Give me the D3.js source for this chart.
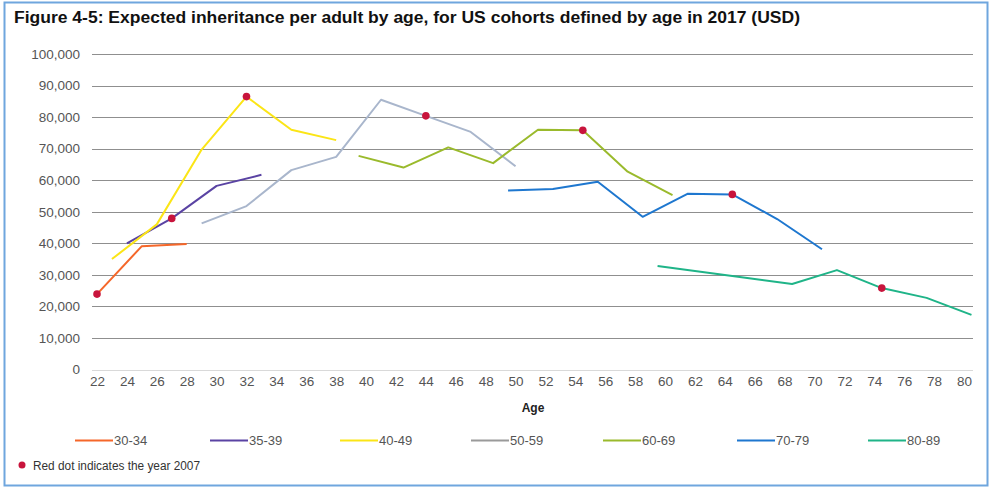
<!DOCTYPE html>
<html><head><meta charset="utf-8">
<script src="https://cdn.jsdelivr.net/npm/d3@7"></script>
<style>
html,body{margin:0;padding:0;background:#fff;}
svg{display:block;font-family:"Liberation Sans",Arial,Helvetica,sans-serif;}
</style></head>
<body><svg id="chart" width="991" height="489"></svg>
<script>
// ---- data ----
const title = "Figure 4-5: Expected inheritance per adult by age, for US cohorts defined by age in 2017 (USD)";
const cohorts = ["30-34","35-39","40-49","50-59","60-69","70-79","80-89"];
const colors  = ["#F5672A","#5A43A3","#FBE516","#A9B6CC","#9ABA2C","#1E77CF","#1FB488"];
const ages30_34 = [22, 25, 28];
const vals30_34 = [23900, 39100, 39800];
const ages35_39 = [24, 27, 30, 33];
const vals35_39 = [40000, 47900, 58200, 61700];
const ages40_49 = [23, 26, 29, 32, 35, 38];
const vals40_49 = [35000, 46000, 69700, 86500, 76000, 72700];
const ages50_59 = [29, 32, 35, 38, 41, 44, 47, 50];
const vals50_59 = [46300, 51800, 63200, 67400, 85500, 80400, 75300, 64400];
const ages60_69 = [39.5, 42.5, 45.5, 48.5, 51.5, 54.5, 57.5, 60.5];
const vals60_69 = [67700, 64000, 70400, 65400, 76000, 75800, 62700, 55300];
const ages70_79 = [49.5, 52.5, 55.5, 58.5, 61.5, 64.5, 67.5, 70.5];
const vals70_79 = [56700, 57200, 59500, 48400, 55700, 55500, 47700, 38100];
const ages80_89 = [59.5, 62.5, 65.5, 68.5, 71.5, 74.5, 77.5, 80.5];
const vals80_89 = [32800, 30900, 29000, 27100, 31500, 25800, 22700, 17300];
const dot2007Ages = [22, 27, 32, 44, 54.5, 64.5, 74.5];
const dot2007Vals = [23900, 47900, 86500, 80400, 75800, 55500, 25800];
const xTicks = [22,24,26,28,30,32,34,36,38,40,42,44,46,48,50,52,54,56,58,60,62,64,66,68,70,72,74,76,78,80];
const yTicks = [0,10000,20000,30000,40000,50000,60000,70000,80000,90000,100000];
const xTitle = "Age";
const noteText = "Red dot indicates the year 2007";

const seriesAges = [ages30_34, ages35_39, ages40_49, ages50_59, ages60_69, ages70_79, ages80_89];
const seriesVals = [vals30_34, vals35_39, vals40_49, vals50_59, vals60_69, vals70_79, vals80_89];

// ---- layout ----
const svg = d3.select("#chart");
const x = d3.scaleLinear().domain([22, 80]).range([97, 964]);
const y = d3.scaleLinear().domain([0, 100000]).range([369.5, 54]);
const gridL = 92, gridR = 973;

// border
svg.append("rect").attr("x",4.5).attr("y",2.5).attr("width",983).attr("height",483)
  .attr("fill","none").attr("stroke","#6FA6DE").attr("stroke-width",2);

// title
svg.append("text").attr("x",14).attr("y",23).attr("font-weight","bold")
  .attr("font-size",16).attr("fill","#111")
  .attr("textLength",786).attr("lengthAdjust","spacingAndGlyphs").text(title);

// gridlines
svg.append("g").selectAll("line").data(yTicks).join("line")
  .attr("x1",gridL).attr("x2",gridR)
  .attr("y1",d=>Math.round(y(d))+0.5).attr("y2",d=>Math.round(y(d))+0.5)
  .attr("stroke",d=>d===0?"#d9d9d9":"#8f8f8f").attr("stroke-width",1.2);

// y axis labels
const yAxis = d3.axisLeft(y).tickValues(yTicks).tickSize(0).tickPadding(0)
  .tickFormat(d3.format(","));
const gy = svg.append("g").attr("transform","translate(80,0)").call(yAxis);
gy.select(".domain").remove();
gy.selectAll("text").attr("font-size",13.5).attr("fill","#555")
  .attr("font-family","Liberation Sans, Arial, sans-serif");

// x axis labels
const xAxis = d3.axisBottom(x).tickValues(xTicks).tickSize(0).tickPadding(0).tickFormat(d3.format("d"));
const gx = svg.append("g").attr("transform","translate(0,376)").call(xAxis);
gx.select(".domain").remove();
gx.selectAll("text").attr("font-size",13.5).attr("fill","#555")
  .attr("font-family","Liberation Sans, Arial, sans-serif");

// x title
svg.append("text").attr("x",533).attr("y",412).attr("text-anchor","middle")
  .attr("font-weight","bold").attr("font-size",12).attr("fill","#222").text(xTitle);

// lines
const line = d3.line().x(d=>x(d[0])).y(d=>y(d[1]));
seriesAges.forEach((ages,i)=>{
  const pts = ages.map((a,j)=>[a, seriesVals[i][j]]);
  svg.append("path").datum(pts).attr("d",line).attr("fill","none")
    .attr("stroke",colors[i]).attr("stroke-width",2).attr("stroke-linejoin","round");
});

// red dots
svg.append("g").selectAll("circle").data(dot2007Ages).join("circle")
  .attr("cx",d=>x(d)).attr("cy",(d,i)=>y(dot2007Vals[i])).attr("r",3.8)
  .attr("fill","#C8143C");

// legend
const legX = [75, 210, 340, 471, 603, 737, 868];
const leg = svg.append("g");
cohorts.forEach((c,i)=>{
  leg.append("line").attr("x1",legX[i]).attr("x2",legX[i]+38).attr("y1",440.5).attr("y2",440.5)
    .attr("stroke", i===3 ? "#9a9a9a" : colors[i]).attr("stroke-width",2);
  leg.append("text").attr("x",legX[i]+39).attr("y",445).attr("font-size",13)
    .attr("fill","#555").text(c);
});
leg.append("circle").attr("cx",22).attr("cy",465).attr("r",3.5).attr("fill","#C8143C");
leg.append("text").attr("x",33).attr("y",469.5).attr("font-size",12).attr("fill","#333")
  .attr("textLength",167).attr("lengthAdjust","spacingAndGlyphs").text(noteText);
</script></body></html>
